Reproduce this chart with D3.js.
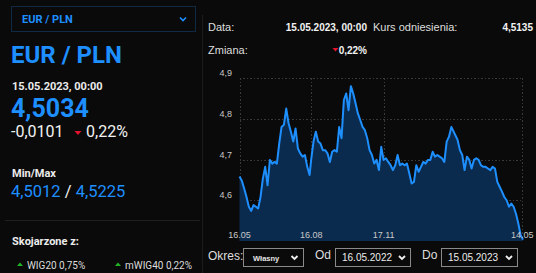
<!DOCTYPE html>
<meta charset="utf-8">
<head>
<title>EUR / PLN</title>
<style>
body { margin: 0; background-color: #0a0a0a; }
svg { display: block; }
.lp text { font-family: 'Roboto', sans-serif; }
.rp text { font-family: 'Liberation Sans', Arial, sans-serif; }
.grid line { stroke: #3a3a3a; stroke-dasharray: 1.5 2; shape-rendering: crispEdges; }
.tick-lbl { fill: #c8c8c8; font-size: 9px; }
</style>
</head>
<body>
<script src="https://cdn.jsdelivr.net/npm/d3@7"></script>
<script>

// kurs EUR/PLN, 16.05.2022 - 15.05.2023 (co ~3 dni)
var startDate = "2022-05-16",
    endDate = "2023-05-15";
var rates = [4.658,4.648,4.629,4.608,4.584,4.574,4.588,4.584,4.580,4.608,
             4.653,4.682,4.637,4.699,4.690,4.694,4.690,4.739,4.780,4.785,
             4.825,4.789,4.768,4.744,4.776,4.727,4.715,4.707,4.711,4.682,
             4.662,4.699,4.744,4.768,4.744,4.739,4.723,4.723,4.715,4.694,
             4.719,4.723,4.719,4.780,4.752,4.846,4.862,4.821,4.880,4.862,
             4.838,4.813,4.797,4.780,4.772,4.752,4.723,4.711,4.690,4.699,
             4.674,4.731,4.699,4.703,4.694,4.686,4.674,4.686,4.711,4.686,
             4.690,4.686,4.690,4.666,4.641,4.645,4.686,4.670,4.682,4.694,
             4.690,4.699,4.699,4.719,4.707,4.711,4.707,4.703,4.694,4.744,
             4.756,4.780,4.772,4.760,4.748,4.723,4.711,4.674,4.707,4.699,
             4.678,4.699,4.703,4.699,4.686,4.682,4.682,4.678,4.674,4.682,
             4.678,4.645,4.633,4.621,4.608,4.600,4.584,4.592,4.584,4.567,
             4.543,4.514,4.5034];
var yTicks = [4.6, 4.7, 4.8, 4.9];
var xTicks = ["2022-05-16", "2022-08-16", "2022-11-17", "2023-05-14"];

var W = 536, H = 273;
var blue = "#1e8fff", red = "#e3122d", green = "#22b427";
var parse = d3.timeParse("%Y-%m-%d");
var t0 = parse(startDate), t1 = parse(endDate);
var totalDays = d3.timeDay.count(t0, t1);
var data = rates.map(function(v, i){
    return {date: d3.timeDay.offset(t0, Math.round(i * totalDays / (rates.length - 1))), value: v};
});

var svg = d3.select("body").append("svg").attr("width", W).attr("height", H);

// ---------- lewy panel ----------
var lp = svg.append("g").attr("class", "lp");
lp.append("rect").attr("x", 11.5).attr("y", 6.5).attr("width", 184).attr("height", 25)
    .attr("fill", "none").attr("stroke", "#102a45");
lp.append("text").attr("x", 22).attr("y", 23).attr("fill", blue)
    .style("font-size", "11px").style("font-weight", "bold").text("EUR / PLN");
lp.append("path").attr("d", "M180,17.5L183,20.5L186,17.5").attr("fill", "none")
    .attr("stroke", blue).attr("stroke-width", 1.6);
lp.append("text").attr("x", 11).attr("y", 63).attr("fill", blue)
    .style("font-size", "24px").style("font-weight", "bold").text("EUR / PLN");
lp.append("text").attr("x", 12).attr("y", 90).attr("fill", "#ececec")
    .style("font-size", "11px").style("font-weight", "bold").text("15.05.2023, 00:00");
lp.append("text").attr("x", 11).attr("y", 117).attr("fill", blue)
    .style("font-size", "25px").style("font-weight", "bold").text("4,5034");
lp.append("text").attr("x", 11).attr("y", 137).attr("fill", "#f2f2f2")
    .style("font-size", "16px").text("-0,0101");
lp.append("path").attr("d", "M74.5,131L81.5,131L78,135Z").attr("fill", red);
lp.append("text").attr("x", 86).attr("y", 137).attr("fill", "#f2f2f2")
    .style("font-size", "16px").text("0,22%");
lp.append("text").attr("x", 12).attr("y", 177).attr("fill", "#ececec")
    .style("font-size", "11px").style("font-weight", "bold").text("Min/Max");
var mm = lp.append("text").attr("x", 11).attr("y", 197).style("font-size", "16.5px");
mm.append("tspan").attr("fill", blue).text("4,5012");
mm.append("tspan").attr("fill", "#f2f2f2").text(" / ");
mm.append("tspan").attr("fill", blue).text("4,5225");
lp.append("line").attr("x1", 5).attr("x2", 200).attr("y1", 220.5).attr("y2", 220.5)
    .attr("stroke", "#1f1f1f");
lp.append("text").attr("x", 12).attr("y", 245).attr("fill", "#ececec")
    .style("font-size", "11px").style("font-weight", "bold").text("Skojarzone z:");
[{x: 17, name: "WIG20 0,75%"}, {x: 115, name: "mWIG40 0,22%"}].forEach(function(d){
    lp.append("path").attr("d", "M" + d.x + ",266L" + (d.x + 6) + ",266L" + (d.x + 3) + ",262.5Z")
        .attr("fill", green);
    lp.append("text").attr("x", d.x + 10).attr("y", 268.5).attr("fill", "#dcdcdc")
        .style("font-size", "10px").text(d.name);
});

svg.append("line").attr("x1", 202.5).attr("x2", 202.5).attr("y1", 15).attr("y2", H)
    .attr("stroke", "#1c1c1c");

// ---------- prawy panel ----------
var rp = svg.append("g").attr("class", "rp");
function lbl(x, y, s, opts){
    opts = opts || {};
    return rp.append("text").attr("x", x).attr("y", y)
        .attr("text-anchor", opts.anchor || "start")
        .attr("fill", opts.fill || "#dedede")
        .style("font-size", (opts.size || 11) + "px")
        .style("font-weight", opts.bold ? "bold" : "normal").text(s);
}
lbl(208, 31, "Data:");
lbl(367, 31, "15.05.2023, 00:00", {anchor: "end", bold: true, size: 10, fill: "#f2f2f2"});
lbl(373, 31, "Kurs odniesienia:");
lbl(533, 31, "4,5135", {anchor: "end", bold: true, size: 10, fill: "#f2f2f2"});
lbl(208, 54, "Zmiana:");
rp.append("path").attr("d", "M332.5,48L338.5,48L335.5,51.5Z").attr("fill", red);
lbl(367, 54, "0,22%", {anchor: "end", bold: true, size: 10, fill: "#f2f2f2"});

// wykres
var x = d3.scaleTime().domain([t0, t1]).range([239.5, 523]);
var y = d3.scaleLinear().domain([4.5, 4.9]).range([241, 78]);

var grid = rp.append("g").attr("class", "grid");
grid.selectAll("line.h").data(yTicks).enter().append("line")
    .attr("x1", 239.5).attr("x2", 523)
    .attr("y1", function(d){ return Math.round(y(d)) + 0.5; })
    .attr("y2", function(d){ return Math.round(y(d)) + 0.5; });
grid.selectAll("line.v").data(xTicks).enter().append("line")
    .attr("x1", function(d){ return Math.round(x(parse(d))) + 0.5; })
    .attr("x2", function(d){ return Math.round(x(parse(d))) + 0.5; })
    .attr("y1", 78).attr("y2", 241);

var area = d3.area().x(function(d){ return x(d.date); })
    .y0(y(4.5)).y1(function(d){ return y(d.value); });
var line = d3.line().x(function(d){ return x(d.date); })
    .y(function(d){ return y(d.value); });
rp.append("path").datum(data).attr("d", area).attr("fill", "#0b2b4e");
rp.append("path").datum(data).attr("d", line).attr("fill", "none")
    .attr("stroke", blue).attr("stroke-width", 2).attr("stroke-linejoin", "round");

rp.selectAll("text.yl").data(yTicks).enter().append("text")
    .attr("class", "tick-lbl").attr("text-anchor", "end")
    .attr("x", 232).attr("y", function(d){ return y(d) - 2; })
    .text(function(d){ return d3.format(".1f")(d).replace(".", ","); });
var fmt = d3.timeFormat("%d.%m");
rp.selectAll("text.xl").data(xTicks).enter().append("text")
    .attr("class", "tick-lbl").attr("text-anchor", "middle")
    .attr("x", function(d){ return x(parse(d)); }).attr("y", 238)
    .text(function(d){ return fmt(parse(d)); });

// kontrolki
function chevron(cx, cy){
    rp.append("path").attr("d", "M" + (cx - 3) + "," + (cy - 1.5) + "L" + cx + "," + (cy + 1.5) + "L" + (cx + 3) + "," + (cy - 1.5))
        .attr("fill", "none").attr("stroke", "#f0f0f0").attr("stroke-width", 1.8);
}
lbl(208, 260, "Okres:", {size: 12});
rp.append("rect").attr("x", 243.5).attr("y", 248.5).attr("width", 60).attr("height", 18)
    .attr("fill", "none").attr("stroke", "#8a8a8a");
lbl(253, 261, "Własny", {size: 7.5, bold: true, fill: "#e6e6e6"});
chevron(294.5, 257.5);
lbl(315, 259, "Od", {size: 12});
rp.append("rect").attr("x", 335.5).attr("y", 248.5).attr("width", 75).attr("height", 18)
    .attr("fill", "none").attr("stroke", "#8a8a8a");
lbl(342, 261, "16.05.2022", {size: 10, fill: "#ececec"});
chevron(402, 257.5);
lbl(422, 259, "Do", {size: 12});
rp.append("rect").attr("x", 441.5).attr("y", 248.5).attr("width", 76).attr("height", 18)
    .attr("fill", "none").attr("stroke", "#8a8a8a");
lbl(448, 261, "15.05.2023", {size: 10, fill: "#ececec"});
chevron(509, 257.5);

</script>
</body>
